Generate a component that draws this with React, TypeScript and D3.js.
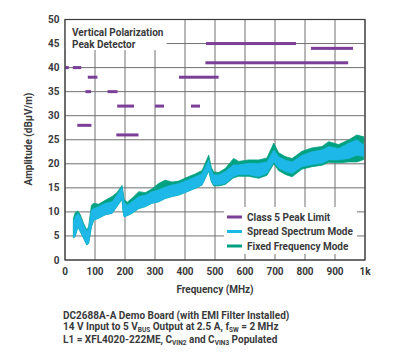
import React from "react";
import * as d3 from "d3";

const W = 417;
const H = 356;

const xTicks = [0, 100, 200, 300, 400, 500, 600, 700, 800, 900, 1000];
const xTickLabels = ["0", "100", "200", "300", "400", "500", "600", "700", "800", "900", "1k"];
const yTicks = [0, 5, 10, 15, 20, 25, 30, 35, 40, 45, 50];

// Class 5 peak limit segments (MHz, dBµV/m)
const limitStart = [0.53, 5.9, 26, 30, 68, 76, 41, 142, 171, 174, 300, 380, 420, 468, 470, 820];
const limitEnd = [1.8, 6.2, 28, 54, 87, 108, 88, 175, 245, 230, 330, 512, 450, 944, 770, 960];
const limitLevel = [40, 40, 40, 40, 35, 38, 28, 35, 26, 32, 32, 38, 32, 41, 45, 44];

// Measured emission envelopes
const freqs = [28, 34, 43, 51, 62, 73, 79, 88, 96, 112, 134, 157, 173, 190, 193, 197, 207, 223, 246, 268, 290, 312, 334, 357, 379, 407, 434, 457, 479, 488, 496, 512, 534, 562, 579, 612, 646, 673, 696, 712, 734, 757, 790, 823, 857, 879, 912, 946, 973, 996];
const spreadHigh = [8.0, 9.0, 9.7, 9.0, 7.3, 5.9, 6.6, 10.4, 10.7, 11.1, 11.8, 12.1, 13.5, 15.2, 14.0, 12.1, 11.4, 12.1, 13.2, 13.5, 14.2, 14.6, 15.2, 15.6, 15.9, 16.6, 17.3, 18.0, 20.8, 18.6, 17.7, 17.7, 18.4, 19.8, 19.8, 20.1, 20.1, 20.4, 22.9, 21.5, 20.8, 20.4, 21.8, 22.5, 22.9, 23.6, 23.2, 24.3, 25.0, 23.9];
const spreadLow = [4.6, 4.9, 6.9, 5.9, 4.5, 3.1, 3.5, 6.9, 8.3, 8.7, 9.4, 9.7, 11.1, 12.8, 10.5, 9.0, 9.2, 9.7, 10.7, 11.1, 11.8, 12.1, 12.8, 13.2, 13.5, 14.2, 14.9, 15.6, 18.7, 16.4, 15.6, 15.6, 15.9, 17.3, 17.7, 17.7, 17.3, 18.0, 20.4, 19.1, 18.4, 18.0, 19.4, 19.8, 20.1, 20.8, 20.8, 21.1, 21.8, 21.5];
const fixedHigh = [8.6, 9.8, 10.2, 9.4, 7.6, 6.2, 7.0, 11.4, 11.8, 11.6, 12.4, 13.2, 14.0, 15.5, 14.4, 12.6, 12.0, 12.8, 14.2, 14.0, 14.8, 15.9, 16.6, 16.2, 16.4, 17.2, 17.9, 18.6, 21.8, 19.2, 18.3, 18.2, 19.0, 21.1, 20.5, 20.8, 20.8, 21.2, 24.3, 22.3, 21.5, 21.1, 22.6, 23.3, 23.6, 24.6, 24.0, 25.0, 26.0, 25.6];
const fixedLow = [4.6, 4.9, 6.9, 5.9, 4.5, 3.1, 3.5, 6.9, 8.3, 8.7, 9.4, 9.7, 11.1, 12.6, 10.3, 9.0, 9.2, 9.7, 10.7, 11.1, 11.8, 12.1, 12.8, 13.2, 13.5, 14.2, 14.9, 15.6, 18.5, 16.2, 15.4, 15.4, 15.7, 17.1, 17.4, 17.4, 17.0, 17.6, 20.0, 18.6, 17.8, 17.3, 18.9, 19.4, 19.7, 20.3, 20.2, 20.4, 20.4, 20.9];

const legendLabels = ["Class 5 Peak Limit", "Spread Spectrum Mode", "Fixed Frequency Mode"];

const PURPLE = "#7b3f98";
const BLUE = "#1db8e8";
const GREEN = "#00a181";
const TEXT = "#3a3a3c";
const GRID = "#707072";
const FONT = "'Liberation Sans Narrow', 'Roboto', sans-serif";

export default function App() {
  const x = d3.scaleLinear().domain([0, 1000]).range([65, 365]);
  const y = d3.scaleLinear().domain([0, 50]).range([260, 19.5]);

  const idx = freqs.map((_, i) => i);
  const greenArea = d3
    .area<number>()
    .x((i) => x(freqs[i]))
    .y0((i) => y(fixedLow[i]))
    .y1((i) => y(fixedHigh[i]))
    .curve(d3.curveLinear)(idx) as string;
  const blueArea = d3
    .area<number>()
    .x((i) => x(freqs[i]))
    .y0((i) => y(spreadLow[i]))
    .y1((i) => y(spreadHigh[i]))
    .curve(d3.curveLinear)(idx) as string;

  const [x0, x1] = x.range();
  const [yb, yt] = y.range();

  return (
    <svg
      width={W}
      height={H}
      style={{ position: "absolute", left: 0, top: 0, background: "#fff" }}
      fontFamily={FONT}
      fontWeight="bold"
    >
      <rect x={0} y={0} width={W} height={H} fill="#fff" />
      {/* grid */}
      {xTicks.map((t) => (
        <line key={"gx" + t} x1={x(t)} x2={x(t)} y1={yt} y2={yb} stroke={GRID} strokeWidth={1} />
      ))}
      {yTicks.map((t) => (
        <line key={"gy" + t} x1={x0} x2={x1} y1={y(t)} y2={y(t)} stroke={GRID} strokeWidth={1} />
      ))}
      {/* title background */}
      <rect x={x0 + 0.5} y={yt + 0.5} width={101} height={30} fill="#fff" />
      {/* data */}
      <path d={greenArea} fill={GREEN} stroke={GREEN} strokeWidth={0.8} />
      <path d={blueArea} fill={BLUE} stroke={BLUE} strokeWidth={0.6} />
      {/* limits */}
      {limitLevel.map((lv, i) => {
        const xa = x(limitStart[i]);
        const xb = x(limitEnd[i]);
        const w = Math.max(xb - xa, 2);
        return <rect key={"lim" + i} x={xa} y={y(lv) - 1.5} width={w} height={3} fill={PURPLE} />;
      })}
      {/* legend background */}
      <rect x={224} y={207} width={133} height={47} fill="#fff" />
      {legendLabels.map((lab, i) => (
        <g key={lab} transform={`translate(227, ${217 + i * 14.5})`}>
          <rect x={0} y={-1.5} width={15} height={3} fill={[PURPLE, BLUE, GREEN][i]} />
          <text x={20} y={0} dy="0.35em" fontSize={10} fill={TEXT}>
            {lab}
          </text>
        </g>
      ))}
      {/* frame */}
      <rect x={x0} y={yt} width={x1 - x0} height={yb - yt} fill="none" stroke="#3c3c3e" strokeWidth={1.2} />
      {/* title */}
      <text x={72} y={36} fontSize={10} fill={TEXT}>Vertical Polarization</text>
      <text x={72} y={47.7} fontSize={10} fill={TEXT}>Peak Detector</text>
      {/* tick labels */}
      {yTicks.map((t) => (
        <text key={"yl" + t} x={59.5} y={y(t)} dy="0.35em" textAnchor="end" fontSize={10} fill={TEXT}>
          {t}
        </text>
      ))}
      {xTicks.map((t, i) => (
        <text key={"xl" + t} x={x(t)} y={274.5} textAnchor="middle" fontSize={10} fill={TEXT}>
          {xTickLabels[i]}
        </text>
      ))}
      {/* axis titles */}
      <text transform="translate(31.5,139) rotate(-90)" textAnchor="middle" fontSize={10} fill={TEXT}>
        Amplitude (dBµV/m)
      </text>
      <text x={215} y={293} textAnchor="middle" fontSize={10} fill={TEXT}>Frequency (MHz)</text>
      {/* notes */}
      <text x={63} y={318.5} fontSize={10} fill={TEXT}>DC2688A-A Demo Board (with EMI Filter Installed)</text>
      <text x={63} y={330} fontSize={10} fill={TEXT}>
        14 V Input to 5 V<tspan fontSize={6.5} dy={2}>BUS</tspan>
        <tspan dy={-2}> Output at 2.5 A, f</tspan>
        <tspan fontSize={6.5} dy={2}>SW</tspan>
        <tspan dy={-2}> = 2 MHz</tspan>
      </text>
      <text x={63} y={342.5} fontSize={10} fill={TEXT}>
        L1 = XFL4020-222ME, C<tspan fontSize={6.5} dy={2}>VIN2</tspan>
        <tspan dy={-2}> and C</tspan>
        <tspan fontSize={6.5} dy={2}>VIN3</tspan>
        <tspan dy={-2}> Populated</tspan>
      </text>
    </svg>
  );
}
